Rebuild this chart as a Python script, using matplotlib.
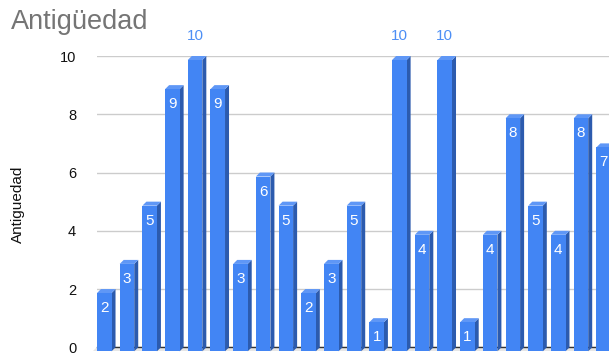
import matplotlib
matplotlib.use("Agg")
import matplotlib.pyplot as plt
from matplotlib.patches import Polygon, Rectangle

values = [2, 3, 5, 9, 10, 9, 3, 6, 5, 2, 3, 5, 1, 10, 4, 10, 1, 4, 8, 5, 4, 8, 7]
yticks = [0, 2, 4, 6, 8, 10]
title = "Antigüedad"
ylabel = "Antiguedad"

FRONT = "#4285F4"
SIDE = "#2C5BAE"
TOP = "#5F97F6"

W, H = 609, 353
fig = plt.figure(figsize=(W / 100, H / 100), dpi=100)
ax = fig.add_axes([97 / W, (H - 347.3) / H, 512 / W, 291.3 / H])
ax.set_xlim(-0.496, 22.06)
ax.set_ylim(0, 10)

# pixel -> data conversion for 3D offset
x0, y0 = ax.transData.transform((0, 0))
x1, y1 = ax.transData.transform((1, 1))
ppx = x1 - x0
ppy = y1 - y0
d = 4.0
dx = d / ppx
dy = d / ppy

w = 0.64

# floor
xl, xr = ax.get_xlim()
ax.add_patch(Polygon([(xl - dx, -dy), (xr, -dy), (xr, 0), (xl, 0)],
                     closed=True, facecolor="#e6e6e6", edgecolor="none",
                     clip_on=False, zorder=1))
ax.plot([xl, xr], [0, 0], color="#333333", lw=1.0, zorder=1.5, clip_on=False)

LABEL_FONT = "Liberation Sans"

for i, v in enumerate(values):
    l, r = i - w / 2, i + w / 2
    # side
    ax.add_patch(Polygon([(r - dx, -dy), (r - dx, v - dy), (r, v), (r, 0)],
                         closed=True, facecolor=SIDE, edgecolor="none",
                         clip_on=False, zorder=3))
    # top
    ax.add_patch(Polygon([(l - dx, v - dy), (r - dx, v - dy), (r, v), (l, v)],
                         closed=True, facecolor=TOP, edgecolor="none",
                         clip_on=False, zorder=3))
    # front
    ax.add_patch(Rectangle((l - dx, -dy), w, v, facecolor=FRONT,
                           edgecolor="none", clip_on=False, zorder=4))
    cx = i - dx
    if v >= 10:
        ax.text(cx, v + 20 / ppy, str(v), color="#4d8ff5", ha="center",
                va="center", fontsize=11, family=LABEL_FONT, zorder=5,
                clip_on=False)
    else:
        ax.text(cx, v - dy - 15 / ppy, str(v), color="white", ha="center",
                va="center", fontsize=11, family=LABEL_FONT, zorder=5,
                clip_on=False)

ax.set_yticks(yticks)
ax.set_yticklabels([str(t) for t in yticks], fontsize=10.5,
                   family="Liberation Sans", color="#111111")
ax.tick_params(axis="y", length=0, pad=15)
ax.set_xticks([])
ax.grid(axis="y", color="#cccccc", lw=1.0, zorder=0)
ax.set_axisbelow(True)
for s in ax.spines.values():
    s.set_visible(False)

ax.set_ylabel(ylabel, fontsize=11, family="Liberation Sans", color="#111111")
ax.yaxis.set_label_coords(-0.141, 0.49)

fig.text(11 / W, 1 - 29.3 / H, title, fontsize=19.5, family="Liberation Sans",
         color="#757575", ha="left", va="baseline")

fig.savefig("out.png", dpi=100)
